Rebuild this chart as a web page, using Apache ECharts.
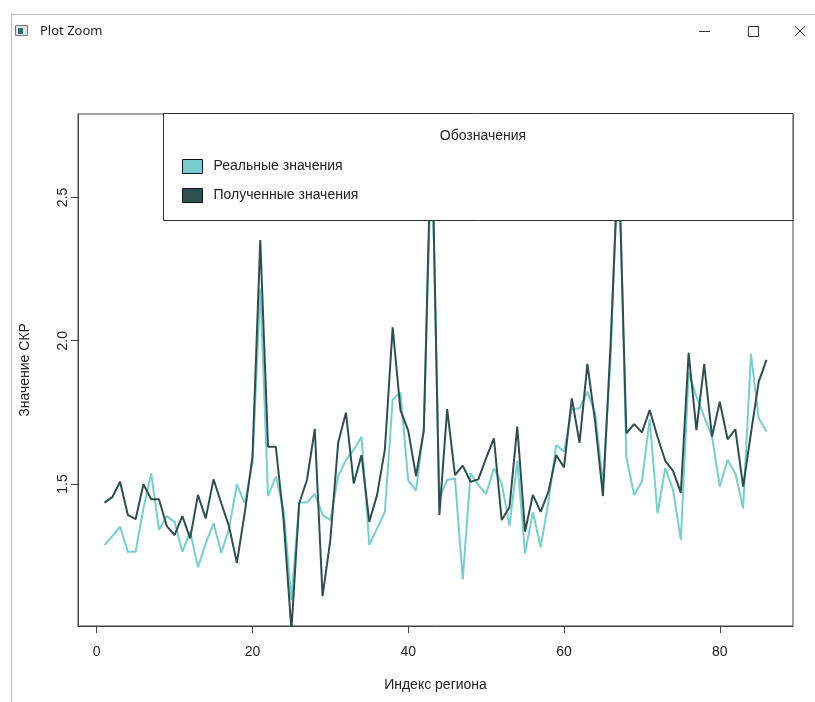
<!DOCTYPE html>
<html>
<head>
<meta charset="utf-8">
<script src="https://cdn.jsdelivr.net/npm/echarts@6/dist/echarts.min.js"></script>
<style>
html,body{margin:0;padding:0;background:#fff;}
#chart{width:815px;height:702px;}
</style>
</head>
<body>
<div id="chart"></div>
<script>
// Region index 1..86
const regionIndex = [];
for (let i = 1; i <= 86; i++) regionIndex.push(i);

// Реальные значения (real values)
const realValues = [
  1.287, 1.318, 1.351, 1.264, 1.264, 1.415, 1.537, 1.340, 1.388, 1.368,
  1.264, 1.334, 1.209, 1.293, 1.363, 1.260, 1.345, 1.499, 1.433, 1.573,
  2.183, 1.458, 1.526, 1.409, 1.095, 1.435, 1.435, 1.465, 1.392, 1.374,
  1.526, 1.584, 1.619, 1.665, 1.287, 1.345, 1.403, 1.795, 1.819, 1.512,
  1.477, 1.695, 2.700, 1.450, 1.514, 1.520, 1.167, 1.537, 1.497, 1.465,
  1.555, 1.502, 1.353, 1.581, 1.258, 1.402, 1.279, 1.438, 1.636, 1.613,
  1.761, 1.764, 1.822, 1.747, 1.500, 1.950, 2.720, 1.595, 1.462, 1.508,
  1.726, 1.398, 1.555, 1.479, 1.305, 1.890, 1.805, 1.735, 1.665, 1.491,
  1.584, 1.537, 1.415, 1.954, 1.729, 1.683
];

// Полученные значения (obtained values)
const obtainedValues = [
  1.435, 1.454, 1.508, 1.392, 1.377, 1.499, 1.447, 1.447, 1.353, 1.322,
  1.388, 1.310, 1.462, 1.380, 1.516, 1.433, 1.351, 1.225, 1.398, 1.595,
  2.351, 1.630, 1.630, 1.374, 0.990, 1.433, 1.514, 1.692, 1.109, 1.305,
  1.644, 1.749, 1.502, 1.601, 1.368, 1.462, 1.620, 2.047, 1.758, 1.686,
  1.528, 1.686, 2.780, 1.392, 1.761, 1.531, 1.564, 1.508, 1.516, 1.590,
  1.659, 1.374, 1.419, 1.700, 1.334, 1.462, 1.403, 1.473, 1.601, 1.558,
  1.799, 1.644, 1.919, 1.717, 1.458, 2.000, 2.650, 1.677, 1.709, 1.680,
  1.758, 1.665, 1.581, 1.546, 1.470, 1.958, 1.688, 1.918, 1.665, 1.787,
  1.656, 1.691, 1.491, 1.677, 1.857, 1.933
];

const xTicks = [0, 20, 40, 60, 80];
const yTicks = [1.5, 2.0, 2.5];
const seriesNames = ['Реальные значения', 'Полученные значения'];
const legendTitle = 'Обозначения';
const xAxisTitle = 'Индекс региона';
const yAxisTitle = 'Значение СКР';
const windowTitle = 'Plot Zoom';

const colReal = '#79CDCD';
const colObt = '#2F4F4F';
const font = 'Liberation Sans, Arial, sans-serif';

const chart = echarts.init(document.getElementById('chart'));
const pair = (vals) => regionIndex.map((x, k) => [x, vals[k]]);

chart.setOption({
  animation: false,
  backgroundColor: '#fff',
  grid: {left: 78, right: 22, top: 114, bottom: 76, show: true,
         borderColor: '#444', borderWidth: 1, backgroundColor: 'transparent'},
  xAxis: {
    type: 'value', min: -2.4, max: 89.4,
    name: xAxisTitle, nameLocation: 'middle', nameGap: 52,
    nameTextStyle: {fontFamily: font, fontSize: 14, color: '#222'},
    axisLine: {show: true, onZero: false, lineStyle: {color: '#444', width: 1}},
    axisTick: {show: true, length: 7, customValues: xTicks, lineStyle: {color: '#444'}},
    axisLabel: {customValues: xTicks, margin: 19, fontFamily: font, fontSize: 14, color: '#222'},
    splitLine: {show: false}
  },
  yAxis: {
    type: 'value', min: 1.0045, max: 2.791,
    name: yAxisTitle, nameLocation: 'middle', nameGap: 46,
    nameTextStyle: {fontFamily: font, fontSize: 14, color: '#222'},
    axisLine: {show: true, onZero: false, lineStyle: {color: '#444', width: 1}},
    axisTick: {show: true, length: 7, customValues: yTicks, lineStyle: {color: '#444'}},
    axisLabel: {customValues: yTicks, rotate: 90, margin: 8, fontFamily: font, fontSize: 14, color: '#222',
                formatter: v => Number(v).toFixed(1)},
    splitLine: {show: false}
  },
  legend: {
    data: seriesNames, orient: 'vertical', left: 182, top: 159, padding: 0,
    itemWidth: 20, itemHeight: 14, itemGap: 14, icon: 'rect', z: 30,
    selectedMode: false,
    itemStyle: {borderColor: '#111', borderWidth: 1},
    textStyle: {fontFamily: font, fontSize: 14, color: '#222', padding: [0, 0, 0, 6]}
  },
  graphic: [
    {type: 'rect', z: 20, shape: {x: 163.5, y: 113.5, width: 629.5, height: 107},
     style: {fill: '#fff', stroke: '#333', lineWidth: 1}},
    {type: 'text', z: 31, x: 483, y: 136,
     style: {text: legendTitle, font: '14px ' + font, fill: '#222', align: 'center', verticalAlign: 'middle'}},
    // window chrome
    {type: 'line', z: 5, shape: {x1: 12, y1: 14.5, x2: 815, y2: 14.5}, style: {stroke: '#bbb', lineWidth: 1}},
    {type: 'line', z: 5, shape: {x1: 11.5, y1: 14, x2: 11.5, y2: 702}, style: {stroke: '#bbb', lineWidth: 1}},
    {type: 'rect', z: 5, shape: {x: 15.5, y: 25.5, width: 12, height: 10}, style: {fill: '#dfe8e8', stroke: '#777', lineWidth: 1}},
    {type: 'rect', z: 6, shape: {x: 18, y: 28, width: 5, height: 6}, style: {fill: '#2f6f6a'}},
    {type: 'text', z: 5, x: 40, y: 31,
     style: {text: windowTitle, font: '13px Noto Sans, sans-serif', fill: '#222', verticalAlign: 'middle'}},
    {type: 'line', z: 5, shape: {x1: 699, y1: 31.5, x2: 710, y2: 31.5}, style: {stroke: '#333', lineWidth: 1}},
    {type: 'rect', z: 5, shape: {x: 748.5, y: 26.5, width: 10, height: 10}, style: {fill: 'none', stroke: '#333', lineWidth: 1}},
    {type: 'line', z: 5, shape: {x1: 795, y1: 26, x2: 805, y2: 36}, style: {stroke: '#333', lineWidth: 1}},
    {type: 'line', z: 5, shape: {x1: 805, y1: 26, x2: 795, y2: 36}, style: {stroke: '#333', lineWidth: 1}}
  ],
  series: [
    {name: seriesNames[0], type: 'line', data: pair(realValues), showSymbol: false, symbol: 'none',
     clip: true, z: 2, lineStyle: {color: colReal, width: 2}, itemStyle: {color: colReal}},
    {name: seriesNames[1], type: 'line', data: pair(obtainedValues), showSymbol: false, symbol: 'none',
     clip: true, z: 3, lineStyle: {color: colObt, width: 2}, itemStyle: {color: colObt}}
  ]
});
</script>
</body>
</html>
